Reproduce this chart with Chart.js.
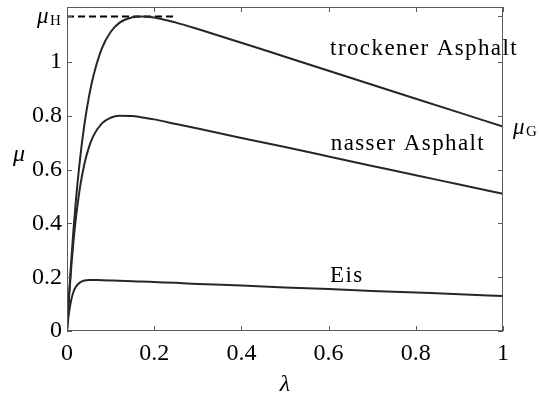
<!DOCTYPE html>
<html>
<head>
<meta charset="utf-8">
<script src="https://cdn.jsdelivr.net/npm/chart.js@4.4.0/dist/chart.umd.min.js"></script>
<style>
  html, body { margin: 0; padding: 0; background: #fff; }
  #wrap { width: 539px; height: 394px; }
</style>
</head>
<body>
<div id="wrap"><canvas id="myChart" width="539" height="394"></canvas></div>
<script>
// slip values (lambda)
var lambda = [0, 0.0025, 0.005, 0.01, 0.015, 0.02, 0.03, 0.04, 0.05, 0.06, 0.08, 0.1, 0.12,
              0.15, 0.17, 0.2, 0.25, 0.3, 0.4, 0.5, 0.6, 0.7, 0.8, 0.9, 1.0];
// friction coefficient mu
var dryAsphalt = [0, 0.073, 0.142, 0.268, 0.379, 0.478, 0.641, 0.769, 0.868, 0.945, 1.051, 1.112, 1.146,
                  1.167, 1.170, 1.166, 1.147, 1.123, 1.072, 1.020, 0.968, 0.916, 0.864, 0.812, 0.760];
var wetAsphalt = [0, 0.069, 0.132, 0.243, 0.336, 0.414, 0.536, 0.622, 0.682, 0.724, 0.772, 0.793, 0.801,
                  0.800, 0.795, 0.787, 0.770, 0.753, 0.718, 0.684, 0.649, 0.614, 0.579, 0.545, 0.510];
var ice = [0, 0.041, 0.073, 0.118, 0.146, 0.164, 0.181, 0.188, 0.190, 0.190, 0.189, 0.188, 0.187,
           0.185, 0.184, 0.182, 0.179, 0.175, 0.169, 0.162, 0.156, 0.149, 0.143, 0.137, 0.130];
var muH = 1.17;
var muHEnd = 0.245;
var xTicks = [0, 0.2, 0.4, 0.6, 0.8, 1];
var yTicks = [0, 0.2, 0.4, 0.6, 0.8, 1];
var curveLabels = [
  { text: "trockener Asphalt", x: 0.819, y: 1.026 },
  { text: "nasser Asphalt", x: 0.782, y: 0.673 },
  { text: "Eis", x: 0.642, y: 0.182 }
];

var serif = "'Liberation Serif', 'DejaVu Serif', serif";
var lineCol = "rgb(38,38,38)";
var axisCol = "rgb(90,90,90)";

function pts(ys) {
  return lambda.map(function(l, i) { return { x: l, y: ys[i] }; });
}

// MATLAB style: inward ticks on all four sides, plus text labels
var decorations = {
  id: "decorations",
  afterDraw: function(chart) {
    var ctx = chart.ctx;
    var a = chart.chartArea;
    var xs = chart.scales.x, ys = chart.scales.y;
    ctx.save();
    ctx.strokeStyle = axisCol;
    ctx.lineWidth = 1;
    ctx.strokeRect(a.left + 0.5, a.top + 0.5, a.right - a.left - 1, a.bottom - a.top - 1);
    var tl = 5;
    ctx.beginPath();
    xTicks.forEach(function(v) {
      var px = Math.round(xs.getPixelForValue(v)) + 0.5;
      ctx.moveTo(px, a.bottom); ctx.lineTo(px, a.bottom - tl);
      ctx.moveTo(px, a.top); ctx.lineTo(px, a.top + tl);
    });
    yTicks.concat([muH]).forEach(function(v) {
      var py = Math.round(ys.getPixelForValue(v)) + 0.5;
      ctx.moveTo(a.left, py); ctx.lineTo(a.left + tl, py);
      ctx.moveTo(a.right, py); ctx.lineTo(a.right - tl, py);
    });
    ctx.stroke();

    ctx.fillStyle = "#000";
    // curve labels
    ctx.font = "23px " + serif;
    ctx.textAlign = "center";
    ctx.textBaseline = "alphabetic";
    ctx.letterSpacing = "1.4px";
    curveLabels.forEach(function(c) {
      ctx.fillText(c.text, xs.getPixelForValue(c.x), ys.getPixelForValue(c.y));
    });
    ctx.letterSpacing = "0px";
    ctx.textBaseline = "middle";
    // mu_H on the left
    var yH = ys.getPixelForValue(muH);
    ctx.textAlign = "left";
    ctx.font = "italic 23px " + serif;
    ctx.fillText("\u03bc", 37, yH + 1);
    ctx.font = "15px " + serif;
    ctx.fillText("H", 50, yH + 5);
    // mu_G on the right
    var yG = ys.getPixelForValue(dryAsphalt[dryAsphalt.length - 1]);
    ctx.font = "italic 23px " + serif;
    ctx.fillText("\u03bc", 513, yG + 1);
    ctx.font = "15px " + serif;
    ctx.fillText("G", 526, yG + 5);
    // axis titles
    ctx.font = "italic 24px " + serif;
    ctx.textAlign = "center";
    ctx.fillText("\u03bc", 19, 155);
    ctx.fillText("\u03bb", (a.left + a.right) / 2, 385);
    ctx.restore();
  }
};

function tickText(v) { return String(v); }

var ctx = document.getElementById("myChart").getContext("2d");
var myChart = new Chart(ctx, {
  type: "line",
  data: {
    datasets: [
      { label: "trockener Asphalt", data: pts(dryAsphalt) },
      { label: "nasser Asphalt", data: pts(wetAsphalt) },
      { label: "Eis", data: pts(ice) },
      { label: "muH", data: [{ x: 0, y: muH }, { x: muHEnd, y: muH }],
        borderColor: "#000", borderDash: [7, 4], cubicInterpolationMode: "default", tension: 0 }
    ]
  },
  options: {
    responsive: false,
    animation: false,
    layout: { padding: { left: 0, right: 36, top: 7, bottom: 0 } },
    elements: {
      point: { radius: 0 },
      line: { borderColor: lineCol, borderWidth: 2, cubicInterpolationMode: "monotone", fill: false }
    },
    plugins: { legend: { display: false }, tooltip: { enabled: false } },
    scales: {
      x: {
        type: "linear", min: 0, max: 1,
        afterFit: function(s) { s.height = 63; s.paddingLeft = 0; s.paddingRight = 0; },
        afterBuildTicks: function(s) { s.ticks = xTicks.map(function(v) { return { value: v }; }); },
        grid: { display: false, drawTicks: false },
        border: { display: false },
        ticks: { color: "#000", padding: 8, maxRotation: 0, callback: tickText,
                 font: { family: serif, size: 24 } }
      },
      y: {
        type: "linear", min: 0, max: 1.205,
        afterFit: function(s) { s.width = 67; s.paddingTop = 0; s.paddingBottom = 0; },
        afterBuildTicks: function(s) { s.ticks = yTicks.map(function(v) { return { value: v }; }); },
        grid: { display: false, drawTicks: false },
        border: { display: false },
        ticks: { color: "#000", padding: 5, callback: tickText,
                 font: { family: serif, size: 24 } }
      }
    }
  },
  plugins: [decorations]
});
</script>
</body>
</html>
